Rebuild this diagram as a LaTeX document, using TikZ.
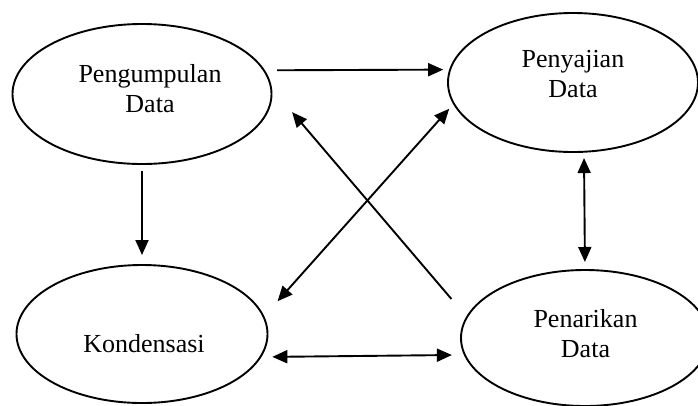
\documentclass[tikz,border=0pt]{standalone}
\usepackage{fontspec}
\setmainfont{Liberation Serif}
\usetikzlibrary{shapes.geometric,arrows.meta}

\begin{document}
\begin{tikzpicture}[x=1bp, y=-1bp, line width=1.9bp,
		>={Triangle[length=15bp,width=13bp]}]
		\tikzstyle{stage}=[ellipse, draw=black, line width=1.9bp, inner sep=0pt, outer sep=0pt]
		\tikzstyle{caption}=[align=center, inner sep=0pt, font=\fontsize{26bp}{30bp}\selectfont]
		\tikzstyle{flow}=[line width=1.9bp]

		\useasboundingbox (0,0) rectangle (698,405);

		% Stages
		\node[stage, minimum width=259bp, minimum height=140bp](peng) at (142,94) {};
		\node[stage, minimum width=250bp, minimum height=139bp](peny) at (573,82.5) {};
		\node[stage, minimum width=251bp, minimum height=138bp](kond) at (142,334) {};
		\node[stage, minimum width=248bp, minimum height=136bp](pena) at (585,338) {};

		% Captions
		\node[caption](pengT) at ([shift={(8,-5.8)}]peng.center) {Pengumpulan\\Data};
		\node[caption](penyT) at ([shift={(0,-8.3)}]peny.center) {Penyajian\\Data};
		\node[caption](kondT) at ([shift={(2,10)}]kond.center) {Kondensasi};
		\node[caption](penaT) at ([shift={(0.5,-4.8)}]pena.center) {Penarikan\\Data};

		% Connections
		\path (peng.11.2) edge [flow, ->, shorten <=13.3bp, shorten >=7bp] (peny.174.2);
		\path (peng.south) edge [flow, ->, shorten <=7bp, shorten >=10bp] (kond.north);
		\path (peny.279.8) edge [flow, <->, shorten <=6.3bp, shorten >=8bp] (pena.north);
		\path (kond.349) edge [flow, <->, shorten <=12bp, shorten >=13bp] (pena.188.1);
		\path (kond.8.7) edge [flow, <->, shorten <=21bp, shorten >=7bp] (peny.190.7);
		\path (pena.170.5) edge [flow, ->, shorten <=24bp, shorten >=32.7bp] (peng.3.1);

\end{tikzpicture}
\end{document}
